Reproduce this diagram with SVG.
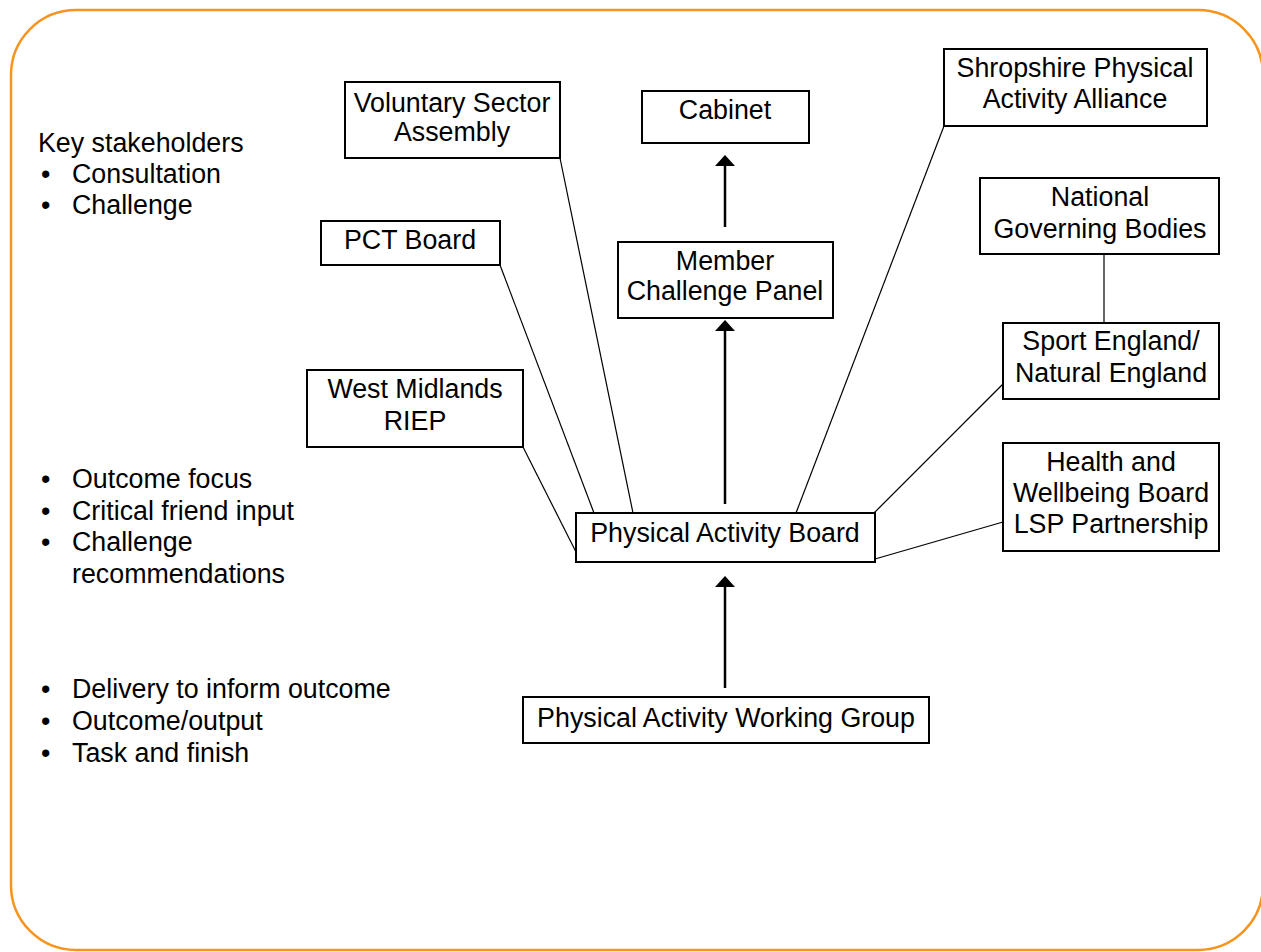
<svg xmlns="http://www.w3.org/2000/svg" width="1261" height="952" viewBox="0 0 1261 952">
  <style>
    .frame { fill: #ffffff; stroke: #F7941D; stroke-width: 2.5; }
    .box { fill: #ffffff; stroke: #000000; stroke-width: 2; }
    .t { font-family: "Liberation Sans", Arial, sans-serif; font-size: 26.8px; fill: #000000; }
    .c { text-anchor: middle; }
    .thin { stroke: #000000; stroke-width: 1.2; fill: none; }
    .arrow { stroke: #000000; stroke-width: 2.5; fill: none; }
    .head { fill: #000000; }
  </style>

  <rect width="1261" height="952" fill="#ffffff"/>
  <rect class="frame" x="11" y="10" width="1252" height="940" rx="65" ry="65"/>

  <!-- side notes -->
  <g id="notes-stakeholders" class="t">
    <text x="38" y="152">Key stakeholders</text>
    <text x="41" y="183">•</text><text x="72" y="183">Consultation</text>
    <text x="41" y="214">•</text><text x="72" y="214">Challenge</text>
  </g>
  <g id="notes-board" class="t">
    <text x="41" y="488">•</text><text x="72" y="488">Outcome focus</text>
    <text x="41" y="520">•</text><text x="72" y="520">Critical friend input</text>
    <text x="41" y="551">•</text><text x="72" y="551">Challenge</text>
    <text x="72" y="583">recommendations</text>
  </g>
  <g id="notes-working-group" class="t">
    <text x="41" y="698">•</text><text x="72" y="698">Delivery to inform outcome</text>
    <text x="41" y="730">•</text><text x="72" y="730">Outcome/output</text>
    <text x="41" y="762">•</text><text x="72" y="762">Task and finish</text>
  </g>

  <!-- connectors -->
  <g id="connectors">
    <line class="thin" x1="523" y1="447" x2="576" y2="552"/>
    <line class="thin" x1="500" y1="265" x2="594" y2="513"/>
    <line class="thin" x1="560" y1="158" x2="633" y2="513"/>
    <line class="thin" x1="944" y1="126" x2="796" y2="513"/>
    <line class="thin" x1="1104" y1="254" x2="1104" y2="323"/>
    <line class="thin" x1="1003" y1="384" x2="874" y2="513"/>
    <line class="thin" x1="1003" y1="522" x2="875" y2="559"/>

    <line class="arrow" x1="725" y1="227" x2="725" y2="164"/>
    <polygon class="head" points="725,155 715,166 735,166"/>
    <line class="arrow" x1="725" y1="504" x2="725" y2="330"/>
    <polygon class="head" points="725,320 715,331 735,331"/>
    <line class="arrow" x1="725" y1="688" x2="725" y2="586"/>
    <polygon class="head" points="725,576 715,587 735,587"/>
  </g>

  <!-- nodes -->
  <g id="voluntary-sector-assembly">
    <rect class="box" x="345" y="82" width="215" height="76"/>
    <text class="t c" x="452" y="112">Voluntary Sector</text>
    <text class="t c" x="452" y="141">Assembly</text>
  </g>
  <g id="pct-board">
    <rect class="box" x="321" y="221" width="179" height="44"/>
    <text class="t c" x="410" y="249">PCT Board</text>
  </g>
  <g id="cabinet">
    <rect class="box" x="642" y="91" width="167" height="52"/>
    <text class="t c" x="725" y="119">Cabinet</text>
  </g>
  <g id="member-challenge-panel">
    <rect class="box" x="618" y="242" width="215" height="76"/>
    <text class="t c" x="725" y="270">Member</text>
    <text class="t c" x="725" y="300">Challenge Panel</text>
  </g>
  <g id="shropshire-physical-activity-alliance">
    <rect class="box" x="944" y="49" width="263" height="77"/>
    <text class="t c" x="1075" y="77">Shropshire Physical</text>
    <text class="t c" x="1075" y="108">Activity Alliance</text>
  </g>
  <g id="national-governing-bodies">
    <rect class="box" x="980" y="178" width="239" height="76"/>
    <text class="t c" x="1100" y="206">National</text>
    <text class="t c" x="1100" y="238">Governing Bodies</text>
  </g>
  <g id="sport-england">
    <rect class="box" x="1003" y="323" width="216" height="76"/>
    <text class="t c" x="1111" y="350">Sport England/</text>
    <text class="t c" x="1111" y="382">Natural England</text>
  </g>
  <g id="health-and-wellbeing-board">
    <rect class="box" x="1003" y="443" width="216" height="108"/>
    <text class="t c" x="1111" y="471">Health and</text>
    <text class="t c" x="1111" y="502">Wellbeing Board</text>
    <text class="t c" x="1111" y="533">LSP Partnership</text>
  </g>
  <g id="west-midlands-riep">
    <rect class="box" x="307" y="370" width="216" height="77"/>
    <text class="t c" x="415" y="398">West Midlands</text>
    <text class="t c" x="415" y="430">RIEP</text>
  </g>
  <g id="physical-activity-board">
    <rect class="box" x="576" y="513" width="299" height="49"/>
    <text class="t c" x="725" y="542">Physical Activity Board</text>
  </g>
  <g id="physical-activity-working-group">
    <rect class="box" x="523" y="697" width="406" height="46"/>
    <text class="t c" x="726" y="727">Physical Activity Working Group</text>
  </g>
</svg>
